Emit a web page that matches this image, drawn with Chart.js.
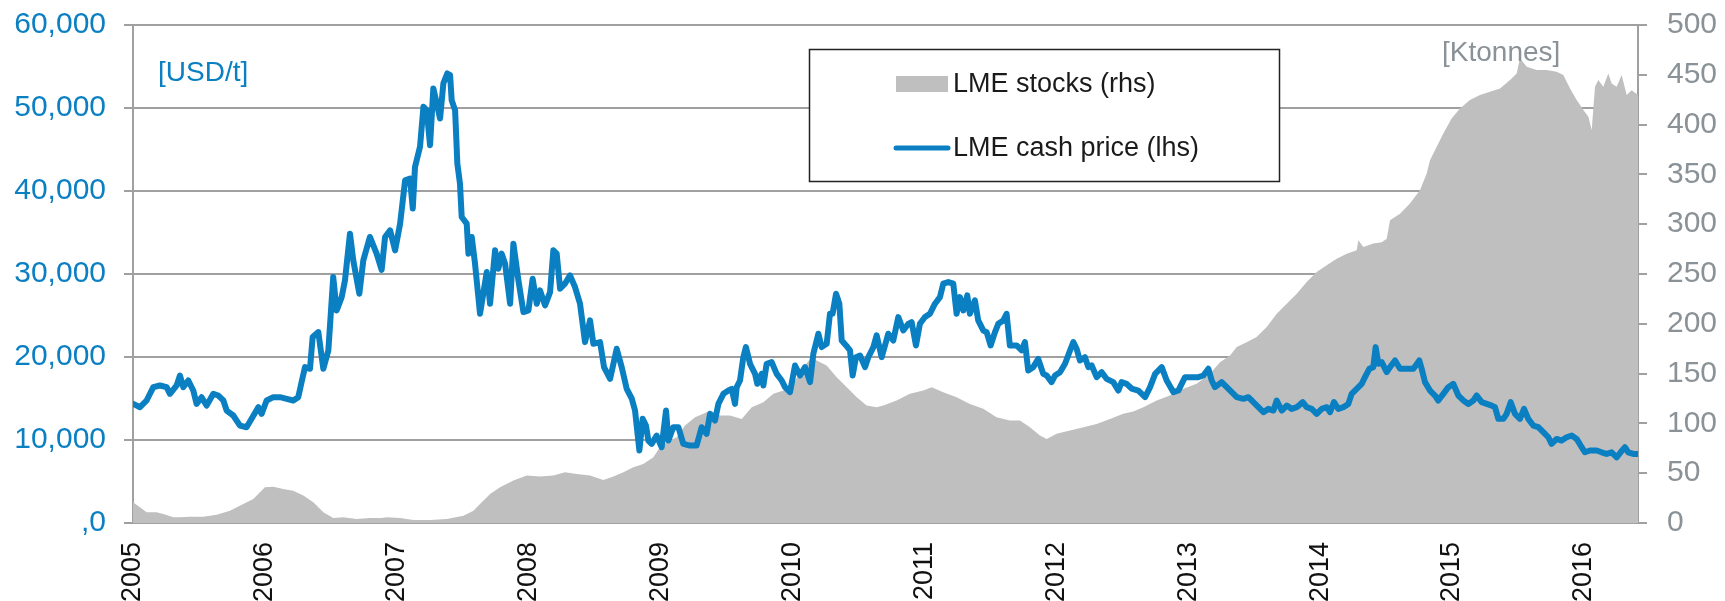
<!DOCTYPE html>
<html>
<head>
<meta charset="utf-8">
<script src="https://cdn.jsdelivr.net/npm/chart.js@4.4.1/dist/chart.umd.min.js"></script>
<style>
  html, body { margin: 0; padding: 0; background: #ffffff; }
  #wrap { width: 1725px; height: 601px; }
</style>
</head>
<body>
<div id="wrap"><canvas id="c" width="1725" height="601"></canvas></div>
<script>
// ---- Data ----
// Year ticks on the x axis
const yearTicks = [2005, 2006, 2007, 2008, 2009, 2010, 2011, 2012, 2013, 2014, 2015, 2016];
// Left axis (USD/t) tick labels, bottom to top
const leftTickLabels = [',0', '10,000', '20,000', '30,000', '40,000', '50,000', '60,000'];
// Right axis (Ktonnes) tick values
const rightTickValues = [0, 50, 100, 150, 200, 250, 300, 350, 400, 450, 500];

// LME cash price (USD/t): dates as decimal years and values
const priceDates = [
2005.002,2005.053,2005.103,2005.154,2005.204,2005.255,2005.280,2005.331,2005.356,2005.381,
2005.419,2005.457,2005.482,2005.520,2005.558,2005.609,2005.647,2005.685,2005.710,2005.760,
2005.811,2005.861,2005.899,2005.950,2005.975,2006.013,2006.064,2006.114,2006.165,2006.215,
2006.253,2006.278,2006.304,2006.342,2006.362,2006.405,2006.443,2006.481,2006.518,2006.544,
2006.582,2006.607,2006.645,2006.670,2006.716,2006.746,2006.796,2006.847,2006.885,2006.911,
2006.949,2006.987,2007.025,2007.063,2007.100,2007.121,2007.138,2007.176,2007.202,2007.227,
2007.252,2007.277,2007.303,2007.328,2007.353,2007.383,2007.404,2007.416,2007.442,2007.459,
2007.479,2007.492,2007.530,2007.543,2007.568,2007.593,2007.631,2007.682,2007.707,2007.745,
2007.770,2007.795,2007.821,2007.859,2007.884,2007.922,2007.960,2007.998,2008.030,2008.061,
2008.086,2008.124,2008.162,2008.187,2008.212,2008.238,2008.275,2008.313,2008.351,2008.389,
2008.427,2008.465,2008.490,2008.541,2008.571,2008.617,2008.667,2008.705,2008.743,2008.781,
2008.806,2008.839,2008.864,2008.889,2008.907,2008.932,2008.970,2009.008,2009.041,2009.059,
2009.096,2009.135,2009.172,2009.223,2009.273,2009.311,2009.349,2009.375,2009.412,2009.438,
2009.476,2009.514,2009.539,2009.564,2009.577,2009.602,2009.627,2009.647,2009.678,2009.716,
2009.733,2009.766,2009.779,2009.804,2009.842,2009.880,2009.918,2009.943,2009.981,2010.019,
2010.057,2010.095,2010.133,2010.158,2010.196,2010.221,2010.259,2010.284,2010.304,2010.330,
2010.355,2010.373,2010.406,2010.436,2010.456,2010.481,2010.512,2010.550,2010.575,2010.613,
2010.638,2010.676,2010.726,2010.764,2010.802,2010.840,2010.878,2010.903,2010.936,2010.966,
2011.004,2011.042,2011.080,2011.118,2011.143,2011.181,2011.219,2011.244,2011.269,2011.295,
2011.325,2011.345,2011.383,2011.408,2011.446,2011.472,2011.502,2011.535,2011.560,2011.598,
2011.623,2011.648,2011.699,2011.737,2011.762,2011.787,2011.825,2011.863,2011.901,2011.927,
2011.964,2011.990,2012.028,2012.066,2012.104,2012.129,2012.154,2012.179,2012.217,2012.243,
2012.268,2012.306,2012.344,2012.381,2012.432,2012.470,2012.495,2012.533,2012.571,2012.622,
2012.673,2012.711,2012.749,2012.799,2012.837,2012.888,2012.925,2012.976,2013.026,2013.077,
2013.115,2013.153,2013.178,2013.203,2013.254,2013.292,2013.330,2013.368,2013.418,2013.456,
2013.494,2013.532,2013.570,2013.608,2013.646,2013.671,2013.709,2013.747,2013.785,2013.823,
2013.868,2013.898,2013.936,2013.974,2014.012,2014.050,2014.075,2014.105,2014.138,2014.176,
2014.214,2014.239,2014.277,2014.315,2014.340,2014.373,2014.403,2014.421,2014.442,2014.467,
2014.505,2014.530,2014.568,2014.606,2014.656,2014.707,2014.752,2014.770,2014.795,2014.833,
2014.871,2014.896,2014.934,2014.972,2015.010,2015.048,2015.086,2015.124,2015.162,2015.187,
2015.225,2015.263,2015.301,2015.326,2015.351,2015.389,2015.414,2015.445,2015.477,2015.515,
2015.546,2015.578,2015.616,2015.654,2015.692,2015.730,2015.755,2015.793,2015.831,2015.869,
2015.907,2015.945,2015.983,2016.008,2016.046,2016.097,2016.134,2016.172,2016.210,2016.248,
2016.278,2016.311,2016.336,2016.374,2016.410
];
const priceValues = [
14350,13950,14760,16370,16570,16370,15560,16570,17770,16370,
17170,15960,14350,15160,14150,15560,15360,14760,13550,12950,
11740,11540,12550,13950,13150,14760,15160,15160,14960,14760,
15160,16970,18780,18580,22400,23000,18580,20790,29630,25610,
27220,29230,34860,31640,27620,31640,34460,32450,30500,34460,
35260,32850,36070,41290,41500,37880,42900,45320,50140,49740,
45520,52350,50540,48730,52960,54160,53960,50940,49740,43310,
40890,36870,36070,32450,34460,31240,25210,30240,26420,32850,
30640,32450,31240,26420,33650,29230,25410,25610,29430,26420,
28030,26220,27820,32850,32450,28230,28830,29840,28430,26420,
21790,24410,21590,21790,18780,17370,20990,18780,16160,15000,
13550,8730,12550,11740,9930,9530,10530,9130,13550,9930,
11540,11540,9530,9330,9330,11540,10740,13150,12340,14350,
15560,15960,16160,14350,16370,17170,19980,21190,19180,17970,
16770,17970,16570,19180,19380,17970,17170,16370,15760,18980,
17770,18780,16970,20390,22800,21190,21590,25210,25210,27620,
26420,21990,21390,20790,17770,19980,20180,18780,19980,21190,
22600,19980,22800,21990,24810,23200,24000,24210,21390,24000,
24810,25210,26420,27220,28830,29030,28830,25210,27220,25610,
27420,25210,26820,24410,23200,23000,21390,23000,24000,24410,
25210,21390,21390,20790,21790,18380,18780,19780,17970,17770,
16970,17770,18170,19180,20790,21790,20990,19580,19980,18780,
18980,17570,18170,17370,16970,15960,16970,16770,16200,15960,
15160,16370,17970,18780,17170,15760,15960,17570,17570,17570,
17770,18580,17170,16370,16970,16370,15760,15160,14960,15160,
14560,13950,13350,13750,13550,14760,13550,14150,13750,13950,
14560,13950,13750,13150,13750,13950,13350,14560,13750,13950,
14350,15560,16160,16770,17570,18580,18780,21190,19180,19380,
18170,18780,19580,18580,18580,18580,19580,18580,16970,15960,
15360,14760,15560,16370,16770,15360,14760,14350,14760,15360,
14560,14350,14150,13950,12550,12550,13150,14560,13150,12550,
13750,12550,11740,11540,10940,10330,9530,10130,9930,10330,
10530,10130,9130,8520,8730,8730,8520,8320,8520,7920,
8520,9130,8520,8320,8320
];

// LME stocks (Ktonnes): dates as decimal years and values
const stockDates = [
2005.000,2005.053,2005.103,2005.179,2005.230,2005.306,2005.356,2005.432,2005.533,2005.634,
2005.735,2005.836,2005.912,2005.963,2006.000,2006.064,2006.139,2006.215,2006.291,2006.367,
2006.443,2006.518,2006.594,2006.695,2006.796,2006.885,2006.924,2007.025,2007.126,2007.252,
2007.378,2007.505,2007.581,2007.631,2007.707,2007.783,2007.884,2007.985,2008.086,2008.187,
2008.275,2008.364,2008.465,2008.566,2008.642,2008.718,2008.793,2008.869,2008.945,2008.995,
2009.046,2009.122,2009.185,2009.261,2009.324,2009.375,2009.450,2009.526,2009.615,2009.691,
2009.779,2009.855,2009.931,2010.006,2010.082,2010.145,2010.183,2010.259,2010.335,2010.411,
2010.487,2010.562,2010.638,2010.689,2010.789,2010.890,2010.992,2011.055,2011.143,2011.244,
2011.345,2011.446,2011.547,2011.648,2011.724,2011.800,2011.876,2011.927,2012.002,2012.104,
2012.205,2012.306,2012.407,2012.507,2012.583,2012.660,2012.761,2012.862,2012.963,2013.064,
2013.165,2013.241,2013.317,2013.368,2013.443,2013.519,2013.595,2013.671,2013.747,2013.823,
2013.898,2013.974,2014.050,2014.126,2014.202,2014.277,2014.290,2014.328,2014.403,2014.467,
2014.505,2014.530,2014.606,2014.681,2014.757,2014.808,2014.833,2014.884,2014.934,2014.997,
2015.060,2015.136,2015.212,2015.288,2015.364,2015.440,2015.490,2015.515,2015.566,2015.642,
2015.717,2015.793,2015.844,2015.895,2015.945,2015.996,2016.034,2016.059,2016.084,2016.109,
2016.147,2016.185,2016.210,2016.248,2016.286,2016.324,2016.362,2016.410
];
const stockValues = [
20.8,15.7,10.7,10.7,9.0,5.7,5.7,6.4,6.4,8.4,
12.4,19.1,24.1,30.8,35.9,36.5,34.2,32.5,27.5,20.8,
10.7,5.0,5.7,4.0,5.0,5.0,5.7,5.0,3.0,3.0,
4.0,7.4,12.4,19.1,29.2,35.9,42.6,47.6,46.6,47.6,
50.9,49.3,47.6,43.2,46.6,50.9,56.0,59.3,66.0,76.1,
81.1,86.1,97.8,106.2,109.6,112.9,107.9,107.9,104.5,116.3,
121.3,129.7,133.0,139.7,156.5,166.5,163.2,158.2,146.4,136.4,
126.3,118.0,116.3,118.0,123.0,129.7,133.0,136.4,131.4,126.3,
119.6,114.6,106.2,102.9,102.9,96.2,87.8,84.4,89.5,92.8,
96.2,99.5,104.5,109.6,112.0,116.3,123.0,128.0,134.7,139.7,
149.8,161.5,168.2,176.6,181.6,186.7,196.7,210.1,220.2,230.2,
241.9,252.0,258.7,265.4,270.4,273.8,283.8,277.1,280.5,282.0,
285.5,303.9,310.6,320.7,334.1,350.8,364.3,377.7,391.1,406.1,
416.2,424.6,429.6,432.9,436.3,444.7,451.4,466.5,458.1,454.7,
454.7,453.1,449.7,436.3,424.6,414.6,407.8,394.4,438.0,444.7,
438.0,451.4,441.3,438.0,449.7,429.6,434.6,429.6
];

const BLUE = '#0a7fc2';
const GREY_TXT = '#8a9297';
const GRID = '#a0a0a0';
const FONT = "'Liberation Sans', Arial, sans-serif";

const extras = {
  id: 'extras',
  afterDatasetsDraw(chart) {
    const ctx = chart.ctx;
    ctx.save();
    ctx.textBaseline = 'middle';
    ctx.textAlign = 'left';
    ctx.font = '28px ' + FONT;
    ctx.fillStyle = BLUE;
    ctx.fillText('[USD/t]', 158, 73);
    ctx.fillStyle = GREY_TXT;
    ctx.fillText('[Ktonnes]', 1442, 53);
    // legend box
    ctx.fillStyle = '#ffffff';
    ctx.fillRect(809, 49, 470, 133);
    ctx.strokeStyle = '#222222';
    ctx.lineWidth = 1.5;
    ctx.strokeRect(809.5, 49.5, 470, 132);
    ctx.fillStyle = '#bfbfbf';
    ctx.fillRect(896, 76, 52, 16);
    ctx.strokeStyle = BLUE;
    ctx.lineWidth = 5;
    ctx.lineCap = 'round';
    ctx.beginPath();
    ctx.moveTo(896, 148);
    ctx.lineTo(948, 148);
    ctx.stroke();
    ctx.fillStyle = '#1a1a1a';
    ctx.font = '27px ' + FONT;
    ctx.fillText('LME stocks (rhs)', 953, 85);
    ctx.fillText('LME cash price (lhs)', 953, 149);
    ctx.restore();
  }
};

function fitV(width) {
  return (s) => { s.width = width; s.paddingTop = 0; s.paddingBottom = 0; };
}

new Chart(document.getElementById('c'), {
  type: 'line',
  data: {
    datasets: [
      {
        label: 'LME cash price (lhs)',
        data: priceDates.map((d, i) => ({ x: d, y: priceValues[i] })),
        borderColor: BLUE,
        borderWidth: 6,
        borderJoinStyle: 'round',
        borderCapStyle: 'round',
        pointRadius: 0,
        fill: false,
        tension: 0,
        yAxisID: 'y'
      },
      {
        label: 'LME stocks (rhs)',
        data: stockDates.map((d, i) => ({ x: d, y: stockValues[i] })),
        borderColor: 'rgba(0,0,0,0)',
        borderWidth: 0,
        backgroundColor: '#bfbfbf',
        pointRadius: 0,
        fill: 'origin',
        tension: 0,
        yAxisID: 'y1'
      }
    ]
  },
  options: {
    responsive: false,
    devicePixelRatio: 1,
    animation: false,
    layout: { padding: { top: 25, left: 0, right: 0, bottom: 0 } },
    plugins: { legend: { display: false }, tooltip: { enabled: false } },
    scales: {
      x: {
        type: 'linear',
        min: 2005,
        max: 2016.41,
        grid: { display: false, drawTicks: false },
        border: { display: true, color: GRID, width: 2 },
        afterBuildTicks: (s) => { s.ticks = yearTicks.map(v => ({ value: v })); },
        afterFit: (s) => { s.height = 78; s.paddingLeft = 0; s.paddingRight = 0; },
        ticks: {
          autoSkip: false,
          maxRotation: 90,
          minRotation: 90,
          padding: 19,
          color: '#111111',
          font: { family: FONT, size: 27 },
          callback: (v) => String(v)
        }
      },
      y: {
        position: 'left',
        min: 0,
        max: 60000,
        grid: { color: GRID, lineWidth: 2, tickLength: 9, drawTicks: true },
        border: { display: true, color: GRID, width: 2 },
        afterFit: fitV(133),
        ticks: {
          stepSize: 10000,
          padding: 18,
          color: BLUE,
          font: { family: FONT, size: 30 },
          callback: (v) => leftTickLabels[Math.round(v / 10000)]
        }
      },
      y1: {
        position: 'right',
        min: 0,
        max: 500,
        grid: { drawOnChartArea: false, color: GRID, lineWidth: 2, tickLength: 9, drawTicks: true },
        border: { display: true, color: GRID, width: 2 },
        afterBuildTicks: (s) => { s.ticks = rightTickValues.map(v => ({ value: v })); },
        afterFit: fitV(87),
        ticks: {
          padding: 20,
          color: GREY_TXT,
          font: { family: FONT, size: 30 },
          callback: (v) => String(v)
        }
      }
    }
  },
  plugins: [extras]
});
</script>
</body>
</html>
